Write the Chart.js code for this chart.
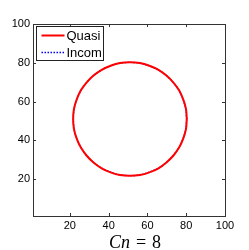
<!DOCTYPE html>
<html>
<head>
<meta charset="utf-8">
<script src="https://cdn.jsdelivr.net/npm/chart.js@4"></script>
<style>
  html, body { margin: 0; padding: 0; background: #fff; }
  #wrap { width: 249px; height: 250px; }
</style>
</head>
<body>
<div id="wrap"><canvas id="chart" width="249" height="250"></canvas></div>
<script>
// values (interface contour, grid units)
const seriesNames = ['Quasi', 'Incom'];
const quasiX = [80.3, 79.9, 78.5, 76.4, 73.4, 69.8, 65.7, 61.0, 56.1, 51.0, 45.9, 41.0, 36.4, 32.2, 28.6, 25.6, 23.5, 22.1, 21.7,
                22.1, 23.5, 25.6, 28.6, 32.2, 36.4, 41.0, 45.9, 51.0, 56.1, 61.0, 65.7, 69.8, 73.4, 76.4, 78.5, 79.9, 80.3];
const quasiY = [51.0, 56.1, 61.0, 65.7, 69.8, 73.4, 76.4, 78.5, 79.9, 80.3, 79.9, 78.5, 76.4, 73.4, 69.8, 65.7, 61.0, 56.1, 51.0,
                45.9, 41.0, 36.4, 32.2, 28.6, 25.6, 23.5, 22.1, 21.7, 22.1, 23.5, 25.6, 28.6, 32.2, 36.4, 41.0, 45.9, 51.0];
const incomX = [80.2, 79.8, 78.4, 76.3, 73.4, 69.8, 65.7, 61.0, 56.1, 51.0, 45.9, 41.0, 36.4, 32.2, 28.6, 25.7, 23.6, 22.2, 21.8,
                22.2, 23.6, 25.7, 28.6, 32.2, 36.4, 41.0, 45.9, 51.0, 56.1, 61.0, 65.7, 69.8, 73.4, 76.3, 78.4, 79.8, 80.2];
const incomY = [51.0, 56.1, 61.0, 65.7, 69.8, 73.4, 76.3, 78.4, 79.8, 80.2, 79.8, 78.4, 76.3, 73.4, 69.8, 65.7, 61.0, 56.1, 51.0,
                45.9, 41.0, 36.4, 32.2, 28.6, 25.7, 23.6, 22.2, 21.8, 22.2, 23.6, 25.7, 28.6, 32.2, 36.4, 41.0, 45.9, 51.0];
const xTicks = [20, 40, 60, 80, 100];
const yTicks = [20, 40, 60, 80, 100];
const axisMin = 1;
const axisMax = 100;
const captionItalic = 'Cn';
const captionRest = '= 8';

const toPoints = (xs, ys) => xs.map((x, i) => ({ x: x, y: ys[i] }));

const axisColor = '#333333';
const sansFont = '"Liberation Sans", Arial, Helvetica, sans-serif';

// MATLAB-ish box, inward ticks, legend and caption
const matlabDecor = {
  id: 'matlabDecor',
  afterDraw(chart) {
    const ctx = chart.ctx;
    const { left, right, top, bottom } = chart.chartArea;
    const xs = chart.scales.x, ys = chart.scales.y;
    ctx.save();
    ctx.strokeStyle = axisColor;
    ctx.lineWidth = 1;
    ctx.strokeRect(Math.round(left) + 0.5, Math.round(top) + 0.5, Math.round(right - left), Math.round(bottom - top));

    ctx.beginPath();
    xTicks.forEach(v => {
      const px = Math.round(xs.getPixelForValue(v)) + 0.5;
      ctx.moveTo(px, bottom); ctx.lineTo(px, bottom - 3);
      ctx.moveTo(px, top); ctx.lineTo(px, top + 3);
    });
    yTicks.forEach(v => {
      const py = Math.round(ys.getPixelForValue(v)) + 0.5;
      ctx.moveTo(left, py); ctx.lineTo(left + 3, py);
      ctx.moveTo(right, py); ctx.lineTo(right - 3, py);
    });
    ctx.stroke();

    // legend
    const lx = Math.round(left) + 3.5, ly = Math.round(top) + 2.5;
    ctx.fillStyle = '#fff';
    ctx.fillRect(lx, ly, 67, 34);
    ctx.strokeStyle = '#222';
    ctx.lineWidth = 1;
    ctx.strokeRect(lx, ly, 67, 34);
    ctx.font = '13px ' + sansFont;
    ctx.textBaseline = 'middle';
    ctx.textAlign = 'left';
    chart.data.datasets.forEach((ds, i) => {
      const yy = ly + 9 + i * 17;
      ctx.beginPath();
      ctx.strokeStyle = ds.borderColor;
      ctx.lineWidth = ds.borderWidth;
      ctx.setLineDash(ds.borderDash || []);
      ctx.moveTo(lx + 5, yy); ctx.lineTo(lx + 28, yy);
      ctx.stroke();
      ctx.setLineDash([]);
      ctx.fillStyle = '#000';
      ctx.fillText(ds.label, lx + 30, yy + 0.5);
    });

    // caption under the x axis
    ctx.textBaseline = 'alphabetic';
    const fItal = 'italic 18px "Liberation Serif", "Times New Roman", serif';
    const fUp = '18px "Liberation Serif", "Times New Roman", serif';
    ctx.font = fItal;
    const w1 = ctx.measureText(captionItalic).width;
    ctx.font = fUp;
    const parts = captionRest.split(' ');
    const wEq = ctx.measureText(parts[0]).width;
    const w8 = ctx.measureText(parts[1]).width;
    const gap = 6;
    const total = w1 + gap + wEq + gap + w8;
    let cx = 135 - total / 2;
    const by = 248;
    ctx.fillStyle = '#000';
    ctx.font = fItal;
    ctx.fillText(captionItalic, cx, by);
    cx += w1 + gap;
    ctx.font = fUp;
    ctx.fillText(parts[0], cx, by);
    cx += wEq + gap;
    ctx.fillText(parts[1], cx, by);
    ctx.restore();
  }
};

new Chart(document.getElementById('chart').getContext('2d'), {
  type: 'scatter',
  data: {
    datasets: [
      {
        label: seriesNames[0],
        data: toPoints(quasiX, quasiY),
        showLine: true,
        borderColor: '#ff0000',
        borderWidth: 2,
        tension: 0.3,
        pointRadius: 0,
        fill: false,
      },
      {
        label: seriesNames[1],
        data: toPoints(incomX, incomY),
        showLine: true,
        borderColor: '#0000ff',
        borderWidth: 1.3,
        borderDash: [1.5, 1.5],
        tension: 0.3,
        pointRadius: 0,
        fill: false,
      },
    ],
  },
  options: {
    responsive: false,
    animation: false,
    layout: { padding: { top: 24, right: 24, left: 0, bottom: 0 } },
    plugins: {
      legend: { display: false },
      tooltip: { enabled: false },
    },
    scales: {
      x: {
        type: 'linear',
        min: axisMin,
        max: axisMax,
        afterBuildTicks: s => { s.ticks = xTicks.map(v => ({ value: v })); },
        afterFit: s => { s.height = 34; },
        grid: { display: false, drawTicks: false },
        border: { display: false },
        ticks: { font: { family: sansFont, size: 11 }, color: '#000', padding: 3, maxRotation: 0 },
      },
      y: {
        type: 'linear',
        min: axisMin,
        max: axisMax,
        afterBuildTicks: s => { s.ticks = yTicks.map(v => ({ value: v })); },
        afterFit: s => { s.width = 33; },
        grid: { display: false, drawTicks: false },
        border: { display: false },
        ticks: { font: { family: sansFont, size: 11 }, color: '#000', padding: 3 },
      },
    },
  },
  plugins: [matlabDecor],
});
</script>
</body>
</html>
